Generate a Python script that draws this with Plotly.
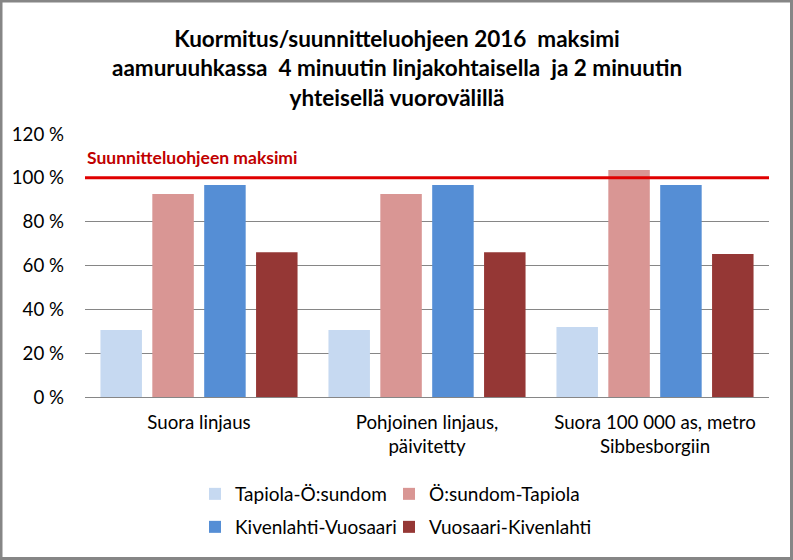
import plotly.graph_objects as go

categories = ["Suora linjaus", "Pohjoinen linjaus,<br>päivitetty", "Suora 100 000 as, metro<br>Sibbesborgiin"]
series_names = ["Tapiola-Ö:sundom", "Ö:sundom-Tapiola", "Kivenlahti-Vuosaari", "Vuosaari-Kivenlahti"]
tapiola_osundom = [0.306, 0.306, 0.319]
osundom_tapiola = [0.926, 0.926, 1.036]
kivenlahti_vuosaari = [0.967, 0.967, 0.967]
vuosaari_kivenlahti = [0.660, 0.660, 0.652]
max_level = 1.0
max_label = "Suunnitteluohjeen maksimi"
tick_vals = [0, 0.2, 0.4, 0.6, 0.8, 1.0, 1.2]
tick_text = ["0 %", "20 %", "40 %", "60 %", "80 %", "100 %", "120 %"]
title_lines = ["Kuormitus/suunnitteluohjeen 2016  maksimi",
               "aamuruuhkassa  4 minuutin linjakohtaisella  ja 2 minuutin",
               "yhteisellä vuorovälillä"]

colors = ["#c6d9f1", "#d99694", "#558ed5", "#953735"]
values = [tapiola_osundom, osundom_tapiola, kivenlahti_vuosaari, vuosaari_kivenlahti]
legend_ids = ["legend", "legend2", "legend3", "legend4"]
legend_pos = [(195, 494), (389, 494), (195, 527), (389, 527)]

FONT = "Lato"
W, H = 793, 560
ML, MR, MT, MB = 85, 24, 134, 163
PW, PH = W - ML - MR, H - MT - MB

def px_x(px):
    return (px - ML) / PW

def px_y(py):
    return (H - MB - py) / PH

fig = go.Figure()
for name, vals, col, lg in zip(series_names, values, colors, legend_ids):
    fig.add_trace(go.Bar(x=categories, y=vals, name=name, marker_color=col,
                         marker_line_width=0, legend=lg, showlegend=True))

fig.add_shape(type="line", xref="paper", yref="y", x0=0, x1=1, y0=max_level, y1=max_level,
              line=dict(color="#e00000", width=3))
fig.add_annotation(text="<b>" + max_label + "</b>", xref="paper", yref="y", x=0, y=1.095,
                   xanchor="left", yanchor="middle", showarrow=False,
                   font=dict(family=FONT, size=17.5, color="#c00000"))
fig.add_shape(type="rect", xref="paper", yref="paper",
              x0=px_x(1), x1=px_x(W - 1.5), y0=px_y(1), y1=px_y(H - 1.5),
              line=dict(color="#868686", width=3), layer="below")

fig.add_annotation(text="<b>" + "<br>".join(title_lines) + "</b>", xref="paper", yref="paper",
                   x=px_x(W / 2), y=px_y(67.5), xanchor="center", yanchor="middle",
                   align="center", showarrow=False,
                   font=dict(family=FONT, size=22.5, color="#000000"))

legend_common = dict(orientation="h", xanchor="left", yanchor="middle", visible=True,
                     font=dict(family=FONT, size=19, color="#000000"),
                     bgcolor="rgba(0,0,0,0)", itemwidth=30, tracegroupgap=0)
legend_layout = {lg: dict(x=px_x(x), y=px_y(y), **legend_common)
                 for lg, (x, y) in zip(legend_ids, legend_pos)}

fig.update_layout(
    width=W, height=H,
    showlegend=True,
    margin=dict(l=ML, r=MR, t=MT, b=MB, pad=0),
    paper_bgcolor="white", plot_bgcolor="white",
    barmode="group", bargap=0.09, bargroupgap=0.2,
    font=dict(family=FONT, size=18.7, color="#000000"),
    xaxis=dict(showline=False, ticks="", ticklabelstandoff=12,
               tickfont=dict(family=FONT, size=18.7, color="#000000"),
               showgrid=False),
    yaxis=dict(range=[0, 1.2], tickvals=tick_vals, ticktext=tick_text,
               showgrid=True, gridcolor="#868686", gridwidth=1,
               zeroline=True, zerolinecolor="#868686", zerolinewidth=1,
               showline=False, ticks="", ticklabelstandoff=20,
               tickfont=dict(family=FONT, size=18.7, color="#000000")),
    **legend_layout,
)

fig.write_html("out.html", config={"displayModeBar": False},
               post_script="document.body.style.margin='0';document.body.style.padding='0';")
